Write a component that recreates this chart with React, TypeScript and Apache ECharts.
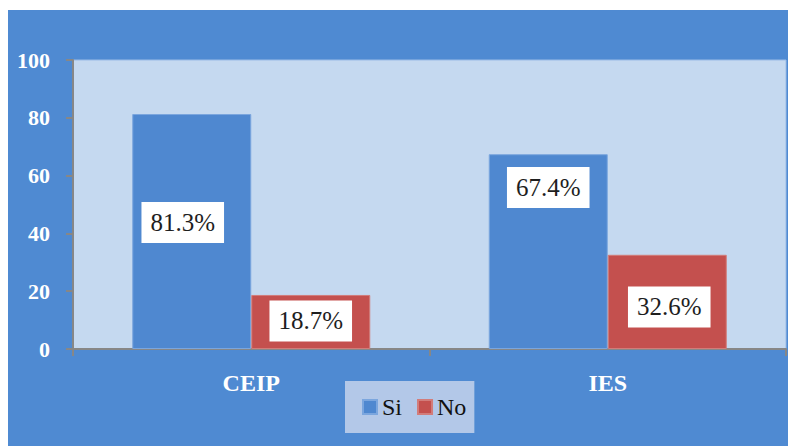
import React, { useEffect, useRef } from "react";
import * as echarts from "echarts";

const categories = ["CEIP", "IES"];
const siValues = [81.3, 67.4];
const noValues = [18.7, 32.6];
const yTicks = [0, 20, 40, 60, 80, 100];

const FONT = "Liberation Serif, Times New Roman, serif";

export default function App() {
  const ref = useRef<HTMLDivElement>(null);
  useEffect(() => {
    if (!ref.current) return;
    const chart = echarts.init(ref.current, undefined, { renderer: "svg" });
    const labelBase = {
      show: true,
      position: "inside",
      formatter: (p: any) => `${p.value}%`,
      backgroundColor: "#ffffff",
      padding: [8, 9, 8, 9],
      fontSize: 25,
      lineHeight: 25,
      fontFamily: FONT,
      color: "#1e1e1e",
    };
    const siOffsets = [[-9, -9], [0, -64]];
    const noOffsets = [[0, -1], [2, 5]];
    chart.setOption({
      animation: false,
      backgroundColor: "#4F8AD2",
      grid: {
        left: 65,
        right: 10,
        top: 50,
        bottom: 97,
        show: true,
        backgroundColor: "#C5D9F0",
        borderColor: "#9CBCE6",
        borderWidth: 1,
      },
      legend: {
        data: ["Si", "No"],
        left: 337,
        top: 371,
        padding: [13, 8, 13, 17],
        itemGap: 15,
        itemWidth: 14,
        itemHeight: 14,
        icon: "rect",
        backgroundColor: "#B3C8E8",
        textStyle: { fontSize: 24, lineHeight: 26, fontFamily: FONT, color: "#111" },
      },
      xAxis: {
        type: "category",
        data: categories,
        axisLine: { show: true, lineStyle: { color: "#878787", width: 2 } },
        axisTick: { show: true, length: 7, lineStyle: { color: "#878787", width: 2 } },
        axisLabel: {
          color: "#ffffff",
          fontWeight: "bold",
          fontSize: 24,
          fontFamily: FONT,
          margin: 22,
        },
      },
      yAxis: {
        type: "value",
        min: 0,
        max: 100,
        interval: 20,
        splitLine: { show: false },
        axisLine: { show: true, lineStyle: { color: "#878787", width: 2 } },
        axisTick: { show: true, length: 7, lineStyle: { color: "#878787", width: 2 } },
        axisLabel: {
          color: "#ffffff",
          fontWeight: "bold",
          fontSize: 22,
          fontFamily: FONT,
          margin: 23,
          formatter: (v: number) => (yTicks.includes(v) ? String(v) : ""),
        },
      },
      series: [
        {
          name: "Si",
          type: "bar",
          barWidth: 119,
          barGap: "0%",
          itemStyle: { color: "#4F88D0", borderColor: "#7BA6DE", borderWidth: 1 },
          data: siValues.map((v, i) => ({ value: v, label: { ...labelBase, offset: siOffsets[i] } })),
        },
        {
          name: "No",
          type: "bar",
          barWidth: 119,
          barGap: "0%",
          itemStyle: { color: "#C4504E", borderColor: "#D27C7A", borderWidth: 1 },
          data: noValues.map((v, i) => ({ value: v, label: { ...labelBase, offset: noOffsets[i] } })),
        },
      ],
    });
    return () => chart.dispose();
  }, []);
  return <div ref={ref} style={{ width: 788, height: 436, marginTop: 2 }} />;
}
